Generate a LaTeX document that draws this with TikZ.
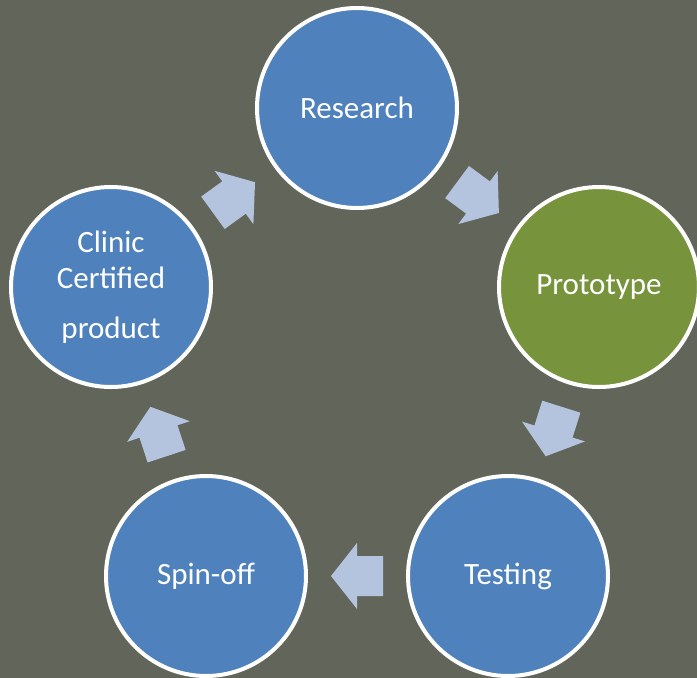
\documentclass[tikz,border=0pt]{standalone}
\usepackage{fontspec}
\setmainfont{Carlito}
\usetikzlibrary{calc}
\definecolor{bgcol}{HTML}{62665A}
\definecolor{stageblue}{HTML}{4F81BD}
\definecolor{stagegreen}{HTML}{77933C}
\definecolor{arrowblue}{HTML}{B4C4DE}
\begin{document}
\begin{tikzpicture}[x=1pt,y=-1pt,
  stage/.style={circle,draw=white,line width=4pt,fill=stageblue,minimum size=200pt,inner sep=0pt,
    text=white,font=\fontsize{31}{36}\selectfont,align=center},
  blockarrow/.pic={\fill[arrowblue] (-26,-20) -- (0,-20) -- (0,-33) -- (26,0) -- (0,33) -- (0,20) -- (-26,20) -- cycle;}]
\fill[bgcol] (0,0) rectangle (697,678);
\useasboundingbox (0,0) rectangle (697,678);
\node[stage] (research) at (357,108) {\raisebox{-1.5pt}{Research}};
\node[stage,fill=stagegreen] (prototype) at (599,287) {\raisebox{-2pt}{Prototype}};
\node[stage] (testing) at (508,576) {\raisebox{-1.5pt}{Testing}};
\node[stage] (spinoff) at (206,576) {\raisebox{-1.5pt}{Spin-off}};
\node[stage] (clinic) at (111,287) {Clinic\\[0pt]Certified\\[14pt]product};
\pic[rotate=-36.5] at ($(research)!0.5!(prototype)$) {blockarrow};
\pic[rotate=-107.5] at ($(prototype)!0.5!(testing)$) {blockarrow};
\pic[rotate=180] at ($(testing)!0.5!(spinoff)$) {blockarrow};
\pic[rotate=108.2] at ($(spinoff)!0.5!(clinic)$) {blockarrow};
\pic[rotate=36] at ($(clinic)!0.5!(research)$) {blockarrow};
\end{tikzpicture}
\end{document}
